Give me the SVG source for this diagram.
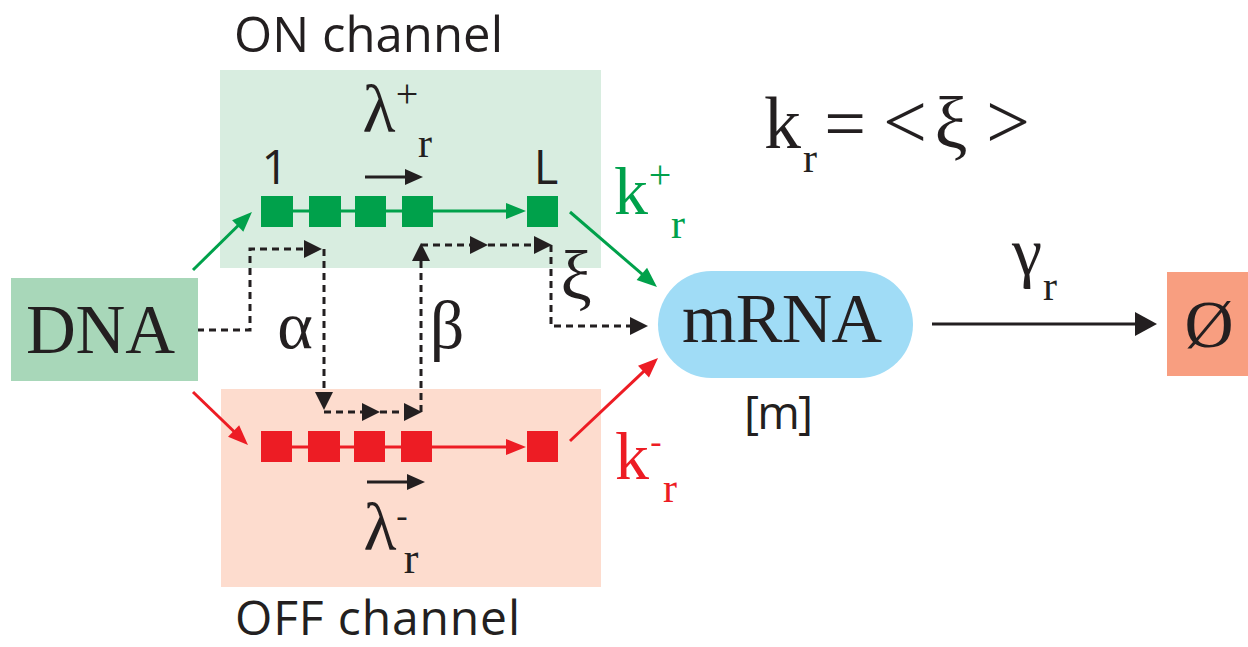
<svg xmlns="http://www.w3.org/2000/svg" width="1248" height="647" viewBox="0 0 1248 647">
<style>
.serif{font-family:"Liberation Serif","Times New Roman",serif;fill:#231f20}
.sans{font-family:"Open Sans","Noto Sans","DejaVu Sans",sans-serif;fill:#231f20}
.g{fill:#00a14b}
.r{fill:#ed1c24}
.gl{stroke:#00a14b;stroke-width:3;fill:none}
.rl{stroke:#ed1c24;stroke-width:3;fill:none}
.bl{stroke:#231f20;stroke-width:3;fill:none}
.dl{stroke:#231f20;stroke-width:3;fill:none;stroke-dasharray:7 5}
</style>
<defs>
<marker id="ahG" markerUnits="userSpaceOnUse" markerWidth="20" markerHeight="18" refX="15" refY="8" orient="auto" overflow="visible"><path d="M0,0 L20,8 L0,16 z" fill="#00a14b"/></marker>
<marker id="ahR" markerUnits="userSpaceOnUse" markerWidth="20" markerHeight="18" refX="15" refY="8" orient="auto" overflow="visible"><path d="M0,0 L20,8 L0,16 z" fill="#ed1c24"/></marker>
<marker id="ahK" markerUnits="userSpaceOnUse" markerWidth="18" markerHeight="16" refX="13" refY="8" orient="auto" overflow="visible"><path d="M0,0 L18,8 L0,16 z" fill="#231f20"/></marker>
<marker id="ahD" markerUnits="userSpaceOnUse" markerWidth="18" markerHeight="18" refX="13" refY="9" orient="auto" overflow="visible"><path d="M0,0 L18,9 L0,18 z" fill="#231f20"/></marker>
<marker id="ahB" markerUnits="userSpaceOnUse" markerWidth="22" markerHeight="24" refX="17" refY="12" orient="auto" overflow="visible"><path d="M0,0 L22,12 L0,24 z" fill="#231f20"/></marker>
</defs>
<rect width="1248" height="647" fill="#ffffff"/>

<g id="on-channel">
<rect x="220" y="70" width="381" height="198" fill="#d8ede0"/>
<text class="sans" x="234" y="52" font-size="49" textLength="269">ON channel</text>
</g>
<g id="off-channel">
<rect x="221" y="389" width="380" height="198" fill="#fddcce"/>
<text class="sans" x="235" y="635" font-size="48" textLength="285">OFF channel</text>
</g>

<g id="connectors">
<line class="gl" x1="193" y1="270" x2="248.4" y2="215.5" marker-end="url(#ahG)"/>
<line class="gl" x1="293" y1="211" x2="521" y2="211" marker-end="url(#ahG)"/>
<line class="gl" x1="570" y1="212" x2="653.2" y2="283.7" marker-end="url(#ahG)"/>
<line class="rl" x1="193" y1="392" x2="244.4" y2="441.5" marker-end="url(#ahR)"/>
<line class="rl" x1="292" y1="447" x2="521" y2="447" marker-end="url(#ahR)"/>
<line class="rl" x1="570" y1="441" x2="654.4" y2="361.4" marker-end="url(#ahR)"/>
<line class="bl" x1="365" y1="177" x2="418" y2="177" marker-end="url(#ahK)"/>
<line class="bl" x1="367" y1="482" x2="420" y2="482" marker-end="url(#ahK)"/>
<path class="dl" d="M197,330 H250 V249 H317" marker-end="url(#ahD)"/>
<path class="dl" d="M324,249 V405" marker-end="url(#ahD)"/>
<path class="dl" d="M324,412 H375" marker-end="url(#ahD)"/>
<path class="dl" d="M380,412 H417" marker-end="url(#ahD)"/>
<path class="dl" d="M421,412 V248" marker-end="url(#ahD)"/>
<path class="dl" d="M421,245 H483" marker-end="url(#ahD)"/>
<path class="dl" d="M488,245 H547" marker-end="url(#ahD)"/>
<path class="dl" d="M551,245 V326 H643" marker-end="url(#ahD)"/>
<line class="bl" x1="932" y1="324" x2="1152" y2="324" marker-end="url(#ahB)"/>
</g>

<g id="on-sites">
<rect class="g" x="261" y="196" width="32" height="31"/>
<rect class="g" x="309" y="196" width="32" height="31"/>
<rect class="g" x="355" y="196" width="31" height="31"/>
<rect class="g" x="402" y="196" width="31" height="31"/>
<rect class="g" x="527" y="196" width="31" height="31"/>
<text class="sans" x="275" y="184" font-size="47" text-anchor="middle">1</text>
<text class="sans" x="546" y="184" font-size="47" text-anchor="middle">L</text>
</g>
<g id="off-sites">
<rect class="r" x="261" y="431" width="31" height="31"/>
<rect class="r" x="308" y="431" width="32" height="31"/>
<rect class="r" x="354" y="431" width="31" height="31"/>
<rect class="r" x="401" y="431" width="31" height="31"/>
<rect class="r" x="527" y="431" width="31" height="31"/>
</g>

<g id="dna">
<rect x="11" y="278" width="187" height="103" fill="#a8d7b9"/>
<text class="serif" x="26" y="353" font-size="69" textLength="149">DNA</text>
</g>
<g id="mrna">
<rect x="658" y="271" width="255" height="107" rx="53.5" fill="#a0dcf6"/>
<text class="serif" x="682" y="342" font-size="70" textLength="200">mRNA</text>
<text class="sans" x="744" y="429" font-size="46" textLength="69">[m]</text>
</g>
<g id="empty">
<rect x="1167" y="272" width="81" height="104" fill="#f89e80"/>
<text class="serif" x="1209" y="347" font-size="68" text-anchor="middle">Ø</text>
</g>

<g id="labels">
<text class="serif" x="379" y="132" font-size="68" text-anchor="middle">λ</text>
<text class="serif" x="407" y="107" font-size="40" text-anchor="middle">+</text>
<text class="serif" x="425" y="157" font-size="42" text-anchor="middle">r</text>
<text class="serif" x="380" y="550" font-size="68" text-anchor="middle">λ</text>
<text class="serif" x="402" y="527" font-size="34" text-anchor="middle">-</text>
<text class="serif" x="411" y="573" font-size="44" text-anchor="middle">r</text>
<text class="serif" x="295" y="348" font-size="68" text-anchor="middle">α</text>
<text class="serif" x="447" y="348" font-size="68" text-anchor="middle">β</text>
<text class="serif" x="576" y="299" font-size="70" text-anchor="middle">ξ</text>
<text class="serif" x="614" y="214" font-size="68" style="fill:#00a14b">k</text>
<text class="serif" x="660" y="188" font-size="40" text-anchor="middle" style="fill:#00a14b">+</text>
<text class="serif" x="678" y="238" font-size="42" text-anchor="middle" style="fill:#00a14b">r</text>
<text class="serif" x="615" y="479" font-size="68" style="fill:#ed1c24">k</text>
<text class="serif" x="656" y="453" font-size="34" text-anchor="middle" style="fill:#ed1c24">-</text>
<text class="serif" x="670" y="502" font-size="42" text-anchor="middle" style="fill:#ed1c24">r</text>
<text class="serif" x="764" y="148" font-size="74">k</text>
<text class="serif" x="810" y="172" font-size="42" text-anchor="middle">r</text>
<text class="serif" x="845" y="148" font-size="74" text-anchor="middle">=</text>
<text class="serif" x="905" y="148" font-size="78" text-anchor="middle">&lt;</text>
<text class="serif" x="951" y="148" font-size="74" text-anchor="middle">ξ</text>
<text class="serif" x="1008" y="148" font-size="78" text-anchor="middle">&gt;</text>
<text class="serif" x="1027" y="275" font-size="68" text-anchor="middle">γ</text>
<text class="serif" x="1050" y="300" font-size="42" text-anchor="middle">r</text>
</g>
</svg>
